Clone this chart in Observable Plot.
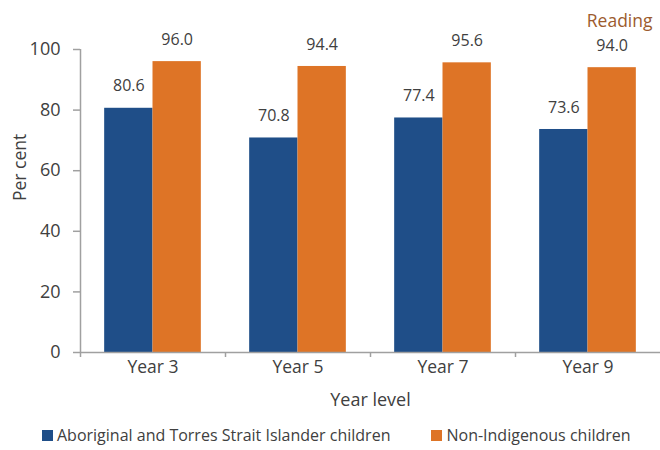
<!DOCTYPE html>
<html>
<head>
<meta charset="utf-8">
<script src="https://cdn.jsdelivr.net/npm/d3@7"></script>
<script src="https://cdn.jsdelivr.net/npm/@observablehq/plot@0.6"></script>
<style>
  body { margin: 0; background: #fff; font-family: "Open Sans", sans-serif; }
  #wrap { width: 660px; height: 450px; position: relative; }
  #legend { display: flex; align-items: center; padding-left: 42px; height: 30px; font-size: 16px; color: #404040; }
  .item { display: flex; align-items: center; }
  .sw { width: 11px; height: 11px; margin-right: 4px; }
</style>
</head>
<body>
<div id="wrap"><div id="chart"></div><div id="legend"></div></div>
<script>
const years = ["Year 3", "Year 5", "Year 7", "Year 9"];
const seriesNames = ["Aboriginal and Torres Strait Islander children", "Non-Indigenous children"];
const indigenous = [80.6, 70.8, 77.4, 73.6];
const nonIndigenous = [96.0, 94.4, 95.6, 94.0];
const yTicks = [0, 20, 40, 60, 80, 100];
const colors = ["#1F4E88", "#DE7426"];
const title = "Reading";
const yLabel = "Per cent";
const xLabel = "Year level";

const rowsA = years.map((y, i) => ({year: y, value: indigenous[i]}));
const rowsN = years.map((y, i) => ({year: y, value: nonIndigenous[i]}));

const W = 660, H = 420, mL = 80, mR = 0;
const band = (W - mL - mR) / years.length;
const gray = "#A0A0A0";
const txt = "#404040";

const chart = Plot.plot({
  width: W, height: H,
  marginLeft: mL, marginRight: mR, marginTop: 49, marginBottom: 68,
  style: {fontFamily: "Open Sans, sans-serif", background: "#fff", overflow: "visible"},
  x: {domain: years, padding: 0, axis: null},
  y: {domain: [0, 100], axis: null},
  marks: [
    Plot.barY(rowsA, {x: "year", y: "value", fill: colors[0], insetLeft: band / 6, insetRight: band / 2}),
    Plot.barY(rowsN, {x: "year", y: "value", fill: colors[1], insetLeft: band / 2, insetRight: band / 6}),
    Plot.ruleY([0], {stroke: gray, strokeWidth: 1.5}),
    Plot.ruleX([years[0]], {y1: 0, y2: 100, dx: -band / 2, stroke: gray, strokeWidth: 1.5}),
    Plot.axisY({ticks: yTicks, tickSize: 7, tickPadding: 13, stroke: gray, strokeWidth: 1.5, fill: txt, fontSize: 18, label: null}),
    Plot.axisX({tickSize: 5, tickFormat: () => "", dx: -band / 2, stroke: gray, strokeWidth: 1.5, label: null}),
    Plot.axisX({tickSize: 0, tickPadding: 8, fill: txt, fontSize: 17.5, label: null}),
    Plot.text(rowsA, {x: "year", y: "value", text: d => d.value.toFixed(1), dx: -band / 6, dy: -22, fill: txt, fontSize: 16}),
    Plot.text(rowsN, {x: "year", y: "value", text: d => d.value.toFixed(1), dx: band / 6, dy: -22, fill: txt, fontSize: 16}),
    Plot.text([yLabel], {frameAnchor: "left", rotate: -90, dx: -60, fill: txt, fontSize: 17.5}),
    Plot.text([xLabel], {frameAnchor: "bottom", dy: 53, fill: txt, fontSize: 18}),
    Plot.text([title], {frameAnchor: "top-right", textAnchor: "end", dx: -8, dy: -35, fill: "#9C5B2E", fontSize: 17.5})
  ]
});
document.getElementById("chart").appendChild(chart);

const legend = document.getElementById("legend");
seriesNames.forEach((name, i) => {
  const it = document.createElement("div");
  it.className = "item";
  if (i > 0) it.style.marginLeft = "41px";
  const sw = document.createElement("div");
  sw.className = "sw";
  sw.style.background = colors[i];
  const t = document.createElement("span");
  t.textContent = name;
  it.appendChild(sw); it.appendChild(t);
  legend.appendChild(it);
});
</script>
</body>
</html>
